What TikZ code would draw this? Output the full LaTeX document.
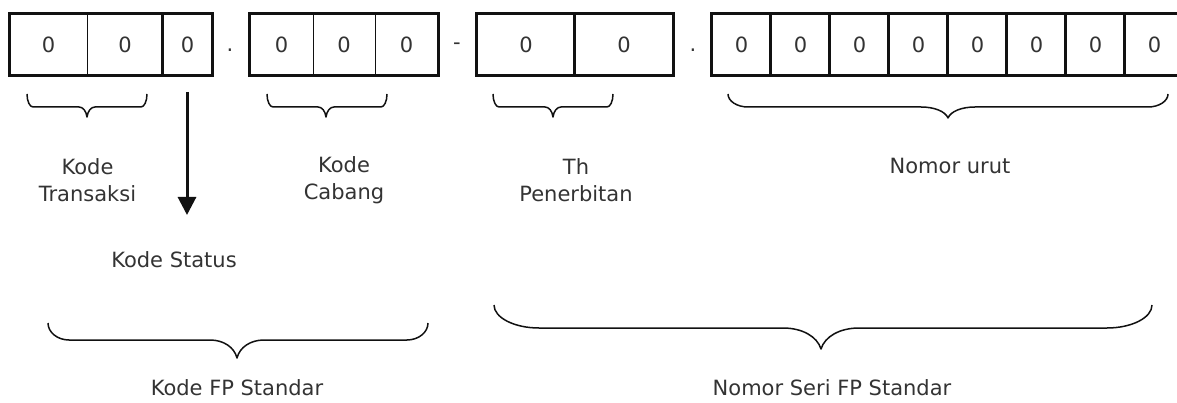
\documentclass[tikz,border=0pt]{standalone}
\usepackage{fontspec}
\setmainfont{DejaVu Sans}
\usetikzlibrary{arrows.meta}
\definecolor{ink}{HTML}{111111}
\definecolor{txt}{HTML}{333333}
\tikzset{
  cell/.style={draw=ink, line width=1pt, minimum height=61pt, inner sep=0pt, text=txt,
    font=\fontsize{21}{26}\selectfont},
  thickline/.style={draw=ink, line width=3pt, line cap=rect},
  divline/.style={draw=ink, line width=2.6pt},
  lbl/.style={text=txt, align=center, inner sep=0pt, font=\fontsize{21}{27.5}\selectfont},
  sep/.style={text=txt, inner sep=0pt, font=\fontsize{21}{26}\selectfont},
  bracestyle/.style={draw=ink, line width=1.5pt, line join=round},
  arrowline/.style={draw=ink, line width=3pt, -{Triangle[width=18pt,length=18pt]}}
}
% x1 x2 xt ytop yline ytip e t
\newcommand\mybrace[8]{%
  \draw[bracestyle] ({#1},{#4})
    .. controls ({#1},{#4+0.55*(#5-#4)}) and ({#1+0.45*#7},{#5}) .. ({#1+#7},{#5})
    -- ({#3-#8},{#5})
    .. controls ({#3-0.5*#8},{#5}) and ({#3-0.1*#8},{#5+0.4*(#6-#5)}) .. ({#3},{#6})
    .. controls ({#3+0.1*#8},{#5+0.4*(#6-#5)}) and ({#3+0.5*#8},{#5}) .. ({#3+#8},{#5})
    -- ({#2-#7},{#5})
    .. controls ({#2-0.45*#7},{#5}) and ({#2},{#4+0.55*(#5-#4)}) .. ({#2},{#4});}
\begin{document}
\begin{tikzpicture}[x=1pt,y=-1pt]
\useasboundingbox (0,0) rectangle (1177,403);
% group 1
\node[cell, minimum width=77pt] (a1) at (48.5,44.5) {0};
\node[cell, minimum width=76pt] (a2) at (125,44.5) {0};
\node[cell, minimum width=49pt] (a3) at (187.5,44.5) {0};
\draw[thickline] (a1.north west) rectangle (a3.south east);
\draw[divline] (a3.north west) -- (a3.south west);
\node[sep] (d1) at (230,50) {.};
% group 2
\node[cell, minimum width=63pt] (b1) at (281.5,44.5) {0};
\node[cell, minimum width=62pt] (b2) at (344,44.5) {0};
\node[cell, minimum width=63pt] (b3) at (406.5,44.5) {0};
\draw[thickline] (b1.north west) rectangle (b3.south east);
\node[sep] (d2) at (457,46) {-};
% group 3
\node[cell, minimum width=98pt] (t1) at (526,44.5) {0};
\node[cell, minimum width=98pt] (t2) at (624,44.5) {0};
\draw[thickline] (t1.north west) rectangle (t2.south east);
\draw[divline] (t2.north west) -- (t2.south west);
\node[sep] (d3) at (693,50) {.};
% group 4
\foreach \k in {1,...,8}{
  \node[cell, minimum width=59pt] (n\k) at ({682.5+59*\k},44.5) {0};
}
\draw[thickline] (n1.north west) rectangle (n8.south east);
\foreach \k in {2,...,8}{
  \draw[divline] (n\k.north west) -- (n\k.south west);
}
% small braces
\mybrace{27}{147}{87}{94}{107}{117}{6}{8}
\mybrace{267}{387}{326}{94}{107}{117}{6}{8}
\mybrace{493}{613}{553}{94}{107}{117}{6}{8}
\mybrace{728}{1168}{948}{94}{107}{118}{20}{27}
% arrow
\coordinate (arrtop) at (187,92);
\coordinate (arrtip) at (187,215);
\draw[arrowline] (arrtop) -- (arrtip);
% labels
\node[lbl] (kt) at (87.5,180) {Kode\\Transaksi};
\node[lbl] (kc) at (344,180) {Kode\\Cabang};
\node[lbl] (th) at (576,180) {Th\\Penerbitan};
\node[lbl] (nu) at (950,166) {Nomor urut};
\node[lbl] (ks) at (174,260) {Kode Status};
% big braces
\mybrace{48}{428}{237}{323}{340}{358}{21}{27}
\mybrace{494}{1152}{821}{305}{328}{349}{45}{38}
\node[lbl] (kfp) at (237,388) {Kode FP Standar};
\node[lbl] (nsfp) at (832,388) {Nomor Seri FP Standar};
\end{tikzpicture}
\end{document}
